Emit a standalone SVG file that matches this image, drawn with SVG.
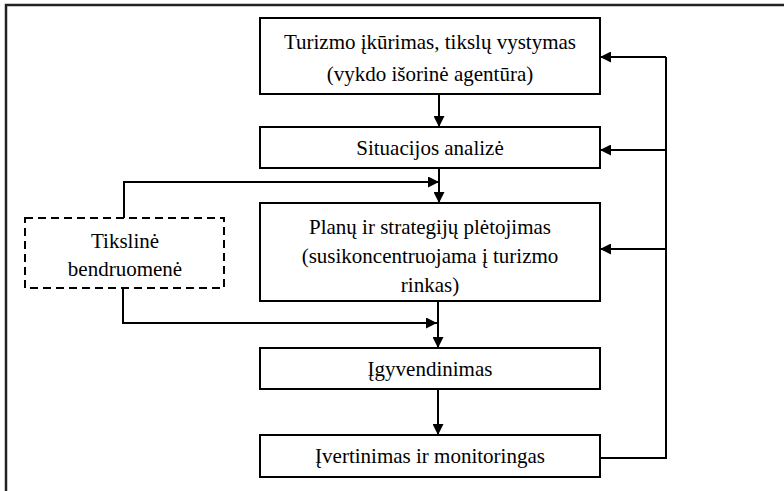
<svg xmlns="http://www.w3.org/2000/svg" width="784" height="491" viewBox="0 0 784 491">
<style>
.box{fill:#fff;stroke:#000;stroke-width:2}
.dash{fill:#fff;stroke:#000;stroke-width:2;stroke-dasharray:8,5}
.ln{fill:none;stroke:#000;stroke-width:2}
.t{font-family:'Liberation Serif','Times New Roman',serif;font-size:21px;fill:#000;text-anchor:middle}
</style>
<defs>
<marker id="ah" viewBox="0 0 10 10" refX="10" refY="5" markerWidth="6.5" markerHeight="5.5" orient="auto" markerUnits="strokeWidth">
<path d="M0,0 L10,5 L0,10 z" fill="#000"/>
</marker>
</defs>
<rect x="0" y="0" width="784" height="491" fill="#fff"/>
<path d="M6,491 V5 H784" fill="none" stroke="#222" stroke-width="2.5"/>
<g id="connectors">
<path class="ln" d="M439,94 V127" marker-end="url(#ah)"/>
<path class="ln" d="M439,168 V203" marker-end="url(#ah)"/>
<path class="ln" d="M124,218 V182 H439" marker-end="url(#ah)"/>
<path class="ln" d="M123,288 V323 H437" marker-end="url(#ah)"/>
<path class="ln" d="M438,301 V348" marker-end="url(#ah)"/>
<path class="ln" d="M438,389 V435" marker-end="url(#ah)"/>
<path class="ln" d="M600,458 H666 V57"/>
<path class="ln" d="M666,57 H600" marker-end="url(#ah)"/>
<path class="ln" d="M666,150 H600" marker-end="url(#ah)"/>
<path class="ln" d="M666,249 H600" marker-end="url(#ah)"/>
</g>
<g id="n1">
<rect class="box" x="260" y="18" width="340" height="76"/>
<text class="t" x="430" y="49">Turizmo įkūrimas, tikslų vystymas</text>
<text class="t" x="430" y="81">(vykdo išorinė agentūra)</text>
</g>
<g id="n2">
<rect class="box" x="260" y="127" width="340" height="41"/>
<text class="t" x="430" y="155">Situacijos analizė</text>
</g>
<g id="n3">
<rect class="box" x="260" y="203" width="340" height="98"/>
<text class="t" x="430" y="234">Planų ir strategijų plėtojimas</text>
<text class="t" x="430" y="263">(susikoncentruojama į turizmo</text>
<text class="t" x="430" y="292">rinkas)</text>
</g>
<g id="n4">
<rect class="box" x="260" y="348" width="340" height="41"/>
<text class="t" x="430" y="376">Įgyvendinimas</text>
</g>
<g id="n5">
<rect class="box" x="260" y="435" width="340" height="42"/>
<text class="t" x="430" y="463">Įvertinimas ir monitoringas</text>
</g>
<g id="n6">
<rect class="dash" x="25" y="218" width="199" height="70"/>
<text class="t" x="125" y="248">Tikslinė</text>
<text class="t" x="125" y="276">bendruomenė</text>
</g>
</svg>
